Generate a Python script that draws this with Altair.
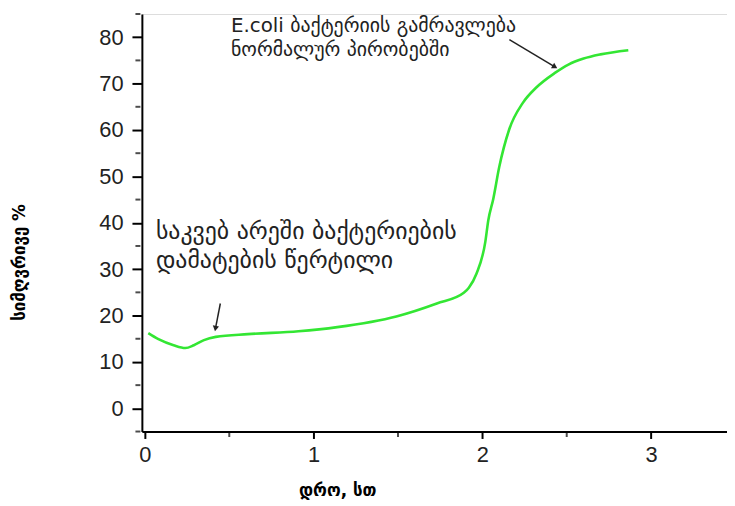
import altair as alt
import pandas as pd

# curve data (hours, turbidity %)
hours = [0.02, 0.08, 0.17, 0.24, 0.29, 0.35, 0.42, 0.61, 0.91, 1.14, 1.49, 1.73, 1.89, 1.92,
         1.965, 2.018, 2.035, 2.065, 2.1, 2.159, 2.241, 2.318, 2.43, 2.51, 2.6, 2.7, 2.865]
turb = [16.2, 14.9, 13.6, 13.0, 13.6, 14.7, 15.4, 16.0, 16.6, 17.5, 19.8, 22.6, 24.9, 26.0,
        29.0, 36.0, 40.5, 45.2, 52.0, 60.1, 65.9, 69.1, 72.3, 74.1, 75.4, 76.3, 77.2]

x_ticks = [0, 1, 2, 3]
y_ticks = [0, 10, 20, 30, 40, 50, 60, 70, 80]
x_minor = [0.5, 1.5, 2.5]
y_minor = [-5, 5, 15, 25, 35, 45, 55, 65, 75, 85]

ann_text = ["E.coli ბაქტერიის გამრავლება", "ნორმალურ პირობებში",
            "საკვებ არეში ბაქტერიების", "დამატების წერტილი"]
ann_x = [0.51, 0.51, 0.065, 0.065]
ann_y = [82.5, 77.3, 38.0, 31.8]
ann_size = [20, 20, 24, 24]

arrow_x = [2.16, 0.447]
arrow_y = [79.5, 22.6]
arrow_x2 = [2.43, 0.418]
arrow_y2 = [73.6, 17.2]
arrow_angle = [31, 100]

XD = [-0.018, 3.45]
YD = [-5, 85]

df = pd.DataFrame({"h": hours, "t": turb})
ann = pd.DataFrame({"text": ann_text, "x": ann_x, "y": ann_y, "size": ann_size})
arr = pd.DataFrame({"x": arrow_x, "y": arrow_y, "x2": arrow_x2, "y2": arrow_y2, "angle": arrow_angle})

xs = alt.Scale(domain=XD, nice=False, zero=False)
ys = alt.Scale(domain=YD, nice=False, zero=False)

line = alt.Chart(df).mark_line(color="#33e633", strokeWidth=2.6, interpolate="monotone").encode(
    x=alt.X("h:Q", scale=xs, axis=alt.Axis(
        values=x_ticks, title="დრო, სთ", format="d", grid=False,
        domainColor="black", domainWidth=2, tickColor="black", tickWidth=2, tickSize=7,
        labelFontSize=22, labelFont="Liberation Sans", labelColor="#222", labelPadding=6,
        titleFontSize=17, titleFont="DejaVu Sans", titleFontWeight="bold",
        titleX=197, titleY=52, titleAnchor="middle")),
    y=alt.Y("t:Q", scale=ys, axis=alt.Axis(
        values=y_ticks, title="სიმღვრივე %", grid=False,
        domainColor="black", domainWidth=2, tickColor="black", tickWidth=2, tickSize=10,
        labelFontSize=22, labelFont="Liberation Sans", labelColor="#222", labelPadding=9,
        titleFontSize=17, titleFont="DejaVu Sans", titleFontWeight="bold",
        titleX=-114, titleY=250, titleAngle=-90)),
)

xminor = alt.Chart(pd.DataFrame({"v": x_minor})).mark_tick(
    color="black", thickness=2, size=5, orient="vertical").encode(
    x=alt.X("v:Q", scale=xs), y=alt.value(424))

yminor = alt.Chart(pd.DataFrame({"v": y_minor})).mark_tick(
    color="black", thickness=2, size=5, orient="horizontal").encode(
    y=alt.Y("v:Q", scale=ys), x=alt.value(-4))

text = alt.Chart(ann).mark_text(align="left", baseline="middle", font="DejaVu Sans",
                                color="#222").encode(
    x=alt.X("x:Q", scale=xs), y=alt.Y("y:Q", scale=ys), text="text:N",
    size=alt.Size("size:Q", scale=None, legend=None))

rules = alt.Chart(arr).mark_rule(color="#222", strokeWidth=1.5).encode(
    x=alt.X("x:Q", scale=xs), y=alt.Y("y:Q", scale=ys),
    x2="x2:Q", y2="y2:Q")

heads = alt.Chart(arr).mark_point(shape="triangle-right", filled=True, color="#222",
                                  size=40, opacity=1).encode(
    x=alt.X("x2:Q", scale=xs), y=alt.Y("y2:Q", scale=ys),
    angle=alt.Angle("angle:Q", scale=None))

chart = alt.layer(line, xminor, yminor, rules, heads, text).properties(
    width=590, height=421,
    autosize=alt.AutoSizeParams(type="none"),
    padding={"left": 135, "top": 4, "right": 0, "bottom": 70}
).configure_view(stroke=None).configure(background="white")

chart.save("out.html", embed_options={"renderer": "svg", "actions": False})
